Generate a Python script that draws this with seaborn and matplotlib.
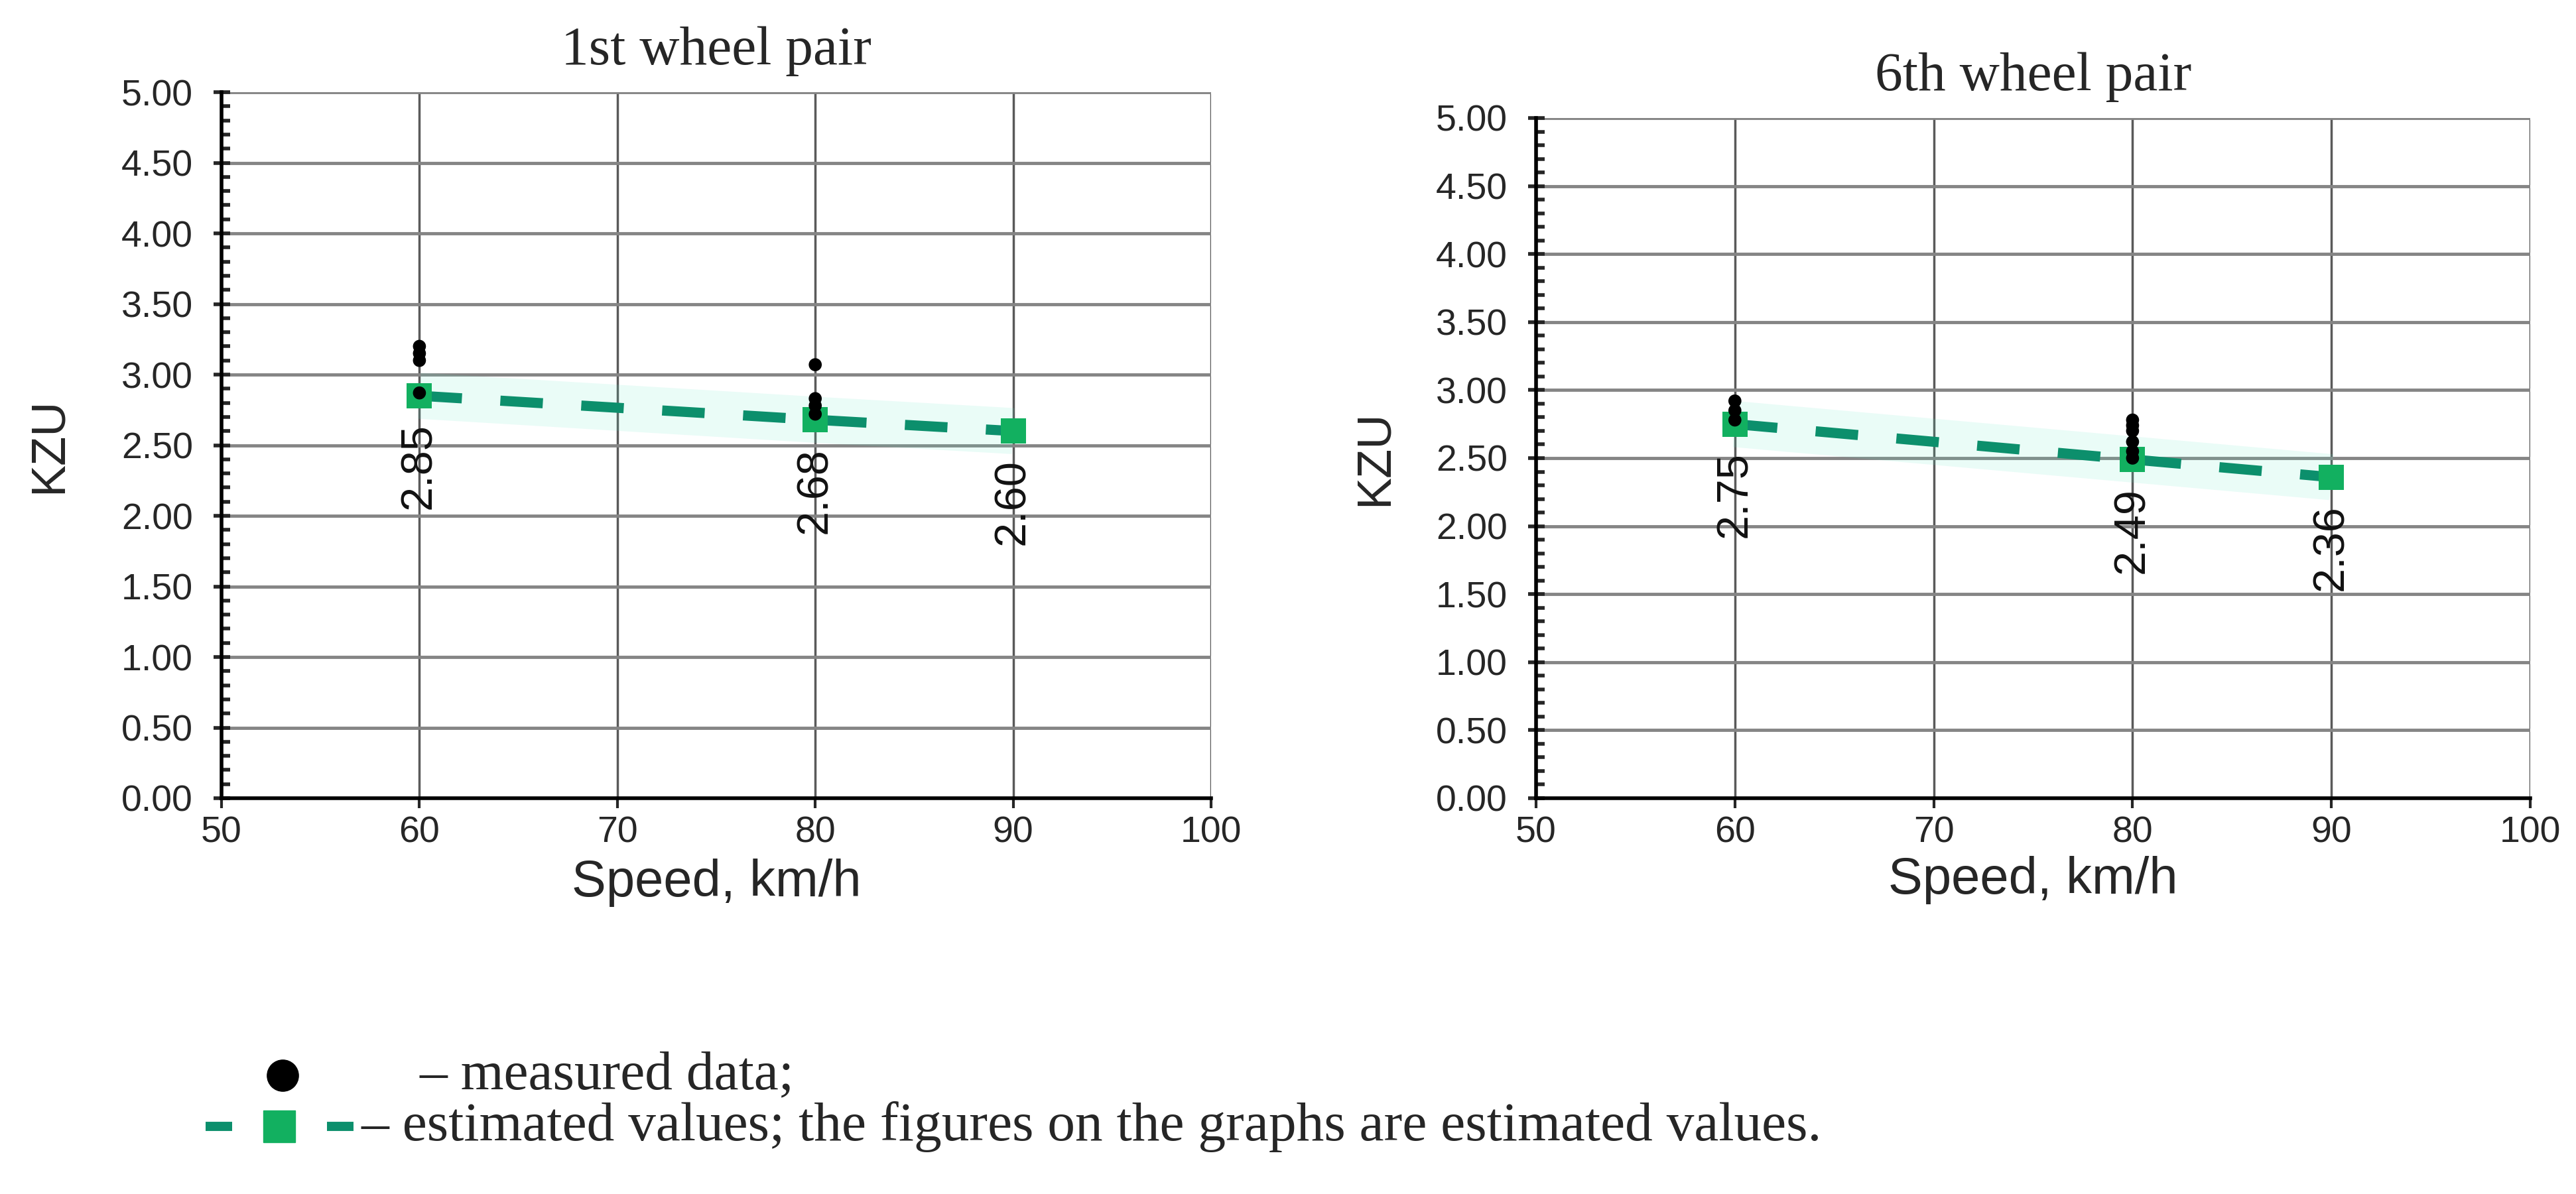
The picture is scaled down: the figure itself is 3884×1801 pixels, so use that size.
import numpy as np
import pandas as pd
import seaborn as sns
import matplotlib.pyplot as plt
from matplotlib.lines import Line2D
from matplotlib.ticker import MultipleLocator, FormatStrFormatter

# data
speed_est = [60, 80, 90]
kzu_est_1 = [2.85, 2.68, 2.60]
kzu_est_6 = [2.75, 2.49, 2.36]
labels_1 = ["2.85", "2.68", "2.60"]
labels_6 = ["2.75", "2.49", "2.36"]

speed_meas_1 = [60, 60, 60, 60, 80, 80, 80, 80]
kzu_meas_1 = [3.20, 3.15, 3.10, 2.87, 3.07, 2.83, 2.78, 2.72]
speed_meas_6 = [60, 60, 60, 80, 80, 80, 80, 80, 80]
kzu_meas_6 = [2.92, 2.85, 2.78, 2.78, 2.74, 2.70, 2.62, 2.55, 2.50]

titles = ["1st wheel pair", "6th wheel pair"]

sns.set_style("white")
plt.rcParams['font.family'] = ['Liberation Serif', 'DejaVu Serif']
narrow = ['Liberation Sans Narrow', 'Liberation Sans', 'DejaVu Sans']
sans = ['Liberation Sans', 'DejaVu Sans']

W, H = 3884, 1801
fig = plt.figure(figsize=(W / 100, H / 100), dpi=100)
fig.patch.set_facecolor('white')

axes_px = [(334, 139, 1826, 1204), (2316, 178, 3815, 1204)]
ylab_x = [-0.152, -0.140]

line_col = '#0c8f6c'
sq_col = '#12b060'
glow_col = '#5fe8c8'

panels = [
    (speed_meas_1, kzu_meas_1, kzu_est_1, labels_1),
    (speed_meas_6, kzu_meas_6, kzu_est_6, labels_6),
]

for i, (sm, km, ke, lab) in enumerate(panels):
    x0, y0, x1, y1 = axes_px[i]
    ax = fig.add_axes([x0 / W, 1 - y1 / H, (x1 - x0) / W, (y1 - y0) / H])

    est = pd.DataFrame({'speed': speed_est, 'kzu': ke})
    meas = pd.DataFrame({'speed': sm, 'kzu': km})

    # soft glow behind the estimate line
    sns.lineplot(data=est, x='speed', y='kzu', ax=ax, color=glow_col,
                 lw=50, alpha=0.13, solid_capstyle='butt', zorder=2)
    sns.lineplot(data=est, x='speed', y='kzu', ax=ax, color=line_col,
                 lw=11, linestyle=(0, (4.2, 3.8)), zorder=3)
    sns.scatterplot(data=est, x='speed', y='kzu', ax=ax, marker='s',
                    s=750, color=sq_col, edgecolor='none', zorder=4)
    sns.scatterplot(data=meas, x='speed', y='kzu', ax=ax, marker='o',
                    s=200, color='black', edgecolor='none', zorder=5)

    for xv, yv, t in zip(speed_est, ke, lab):
        ax.annotate(t, (xv, yv), xytext=(0, -30), textcoords='offset points',
                    rotation=90, ha='center', va='top', fontsize=48,
                    fontfamily=narrow, color='#111111', zorder=6)

    ax.set_xlim(50, 100)
    ax.set_ylim(0, 5)
    ax.xaxis.set_major_locator(MultipleLocator(10))
    ax.yaxis.set_major_locator(MultipleLocator(0.5))
    ax.yaxis.set_minor_locator(MultipleLocator(0.1))
    ax.yaxis.set_major_formatter(FormatStrFormatter('%.2f'))

    ax.grid(axis='y', which='major', color='#858585', lw=3.5)
    ax.grid(axis='x', which='major', color='#5a5a5a', lw=2.5)
    ax.set_axisbelow(True)

    for s in ['top', 'right']:
        ax.spines[s].set_visible(False)
    ax.spines['left'].set_color('black')
    ax.spines['left'].set_linewidth(4)
    ax.spines['bottom'].set_color('black')
    ax.spines['bottom'].set_linewidth(4)

    ax.tick_params(axis='y', which='major', direction='inout', length=18,
                   width=4, labelsize=40, pad=22, left=True)
    ax.tick_params(axis='y', which='minor', direction='in', length=9,
                   width=4, left=True)
    ax.tick_params(axis='x', which='major', direction='out', length=11,
                   width=3, labelsize=40, pad=8, bottom=True)
    for t in ax.get_xticklabels() + ax.get_yticklabels():
        t.set_fontfamily(narrow)

    ax.set_title(titles[i], fontsize=60, pad=30)
    ax.set_xlabel('Speed, km/h', fontsize=56, fontfamily=sans)
    ax.set_ylabel('KZU', fontsize=52, fontfamily=sans)
    ax.xaxis.set_label_coords(0.5, -0.085)
    ax.yaxis.set_label_coords(ylab_x[i], 0.5)

# key at the bottom
fig.add_artist(Line2D([426 / W], [1 - 1622 / H], marker='o', ms=34,
                      color='black', transform=fig.transFigure))
fig.text(632 / W, 1 - 1622 / H, '– measured data;', fontsize=60,
         va='center', ha='left')
for xa, xb in [(310, 350), (493, 533)]:
    fig.add_artist(Line2D([xa / W, xb / W], [1 - 1699 / H] * 2,
                          color=line_col, lw=10, solid_capstyle='butt',
                          transform=fig.transFigure))
fig.add_artist(Line2D([421 / W], [1 - 1699 / H], marker='s', ms=34,
                      color=sq_col, transform=fig.transFigure))
fig.text(545 / W, 1 - 1699 / H,
         '– estimated values; the figures on the graphs are estimated values.',
         fontsize=60, va='center', ha='left')

fig.savefig('out.png', dpi=100, facecolor='white')
